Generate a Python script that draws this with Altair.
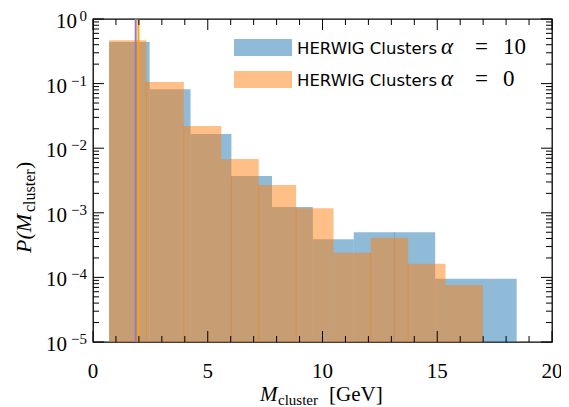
import altair as alt
import pandas as pd

# ---------------- data ----------------
blue_edges = [0.70, 2.47, 4.25, 6.03, 7.80, 9.58, 11.36, 13.13, 14.91, 16.69, 18.46]
blue_density = [0.44, 0.082, 0.0166, 0.0037, 0.00123, 0.00039, 0.00050, 0.00050, 0.000095, 0.000095]
orange_edges = [0.70, 2.33, 3.96, 5.59, 7.22, 8.85, 10.48, 12.10, 13.73, 15.36, 16.99]
orange_density = [0.47, 0.106, 0.0221, 0.0068, 0.0027, 0.00118, 0.00024, 0.00041, 0.000162, 0.000076]

# bin edges where a thin seam between neighbouring bars is visible
blue_seam_idx = [3, 7]
orange_seam_idx = [1, 2, 4, 5, 7, 8]

series_names = ["HERWIG Clusters", "HERWIG Clusters"]
series_alpha = ["10", "0"]
mean_values = [1.86, 1.98]
mean_colors = ["#9477c9", "#ffa500"]

x_major = [0, 5, 10, 15, 20]
x_minor = [1, 2, 3, 4, 6, 7, 8, 9, 11, 12, 13, 14, 16, 17, 18, 19]
y_major = [1e0, 1e-1, 1e-2, 1e-3, 1e-4, 1e-5]
y_exponents = ["0", "\u22121", "\u22122", "\u22123", "\u22124", "\u22125"]
y_minor = [k * 10.0 ** d for d in range(-5, 0) for k in range(2, 10)]

W, H = 459, 323
SERIF = "Liberation Serif"
SANS = "DejaVu Sans"

xs = alt.Scale(domain=[0, 20], nice=False, zero=False)
ys = alt.Scale(type="log", domain=[1e-5, 1], nice=False, clamp=True)


def hist_df(edges, dens):
    return pd.DataFrame({"x": edges[:-1], "x2": edges[1:], "y": dens})


def bars(df, color):
    return alt.Chart(df).mark_rect(color=color, opacity=0.5).encode(
        x=alt.X("x:Q", scale=xs, axis=None),
        x2="x2:Q",
        y=alt.Y("y:Q", scale=ys, axis=None),
        y2=alt.value(H),
    )


def seams(edges, dens, idx, color, op):
    d = pd.DataFrame({"x": [edges[i] for i in idx],
                      "y": [min(dens[i - 1], dens[i]) for i in idx]})
    return alt.Chart(d).mark_rule(color=color, opacity=op, strokeWidth=1).encode(
        x=alt.X("x:Q", scale=xs, axis=None),
        y=alt.Y("y:Q", scale=ys, axis=None),
        y2=alt.value(H),
    )


blue = bars(hist_df(blue_edges, blue_density), "#1f77b4")
blue_s = seams(blue_edges, blue_density, blue_seam_idx, "#8a6f55", 0.45)
orange = bars(hist_df(orange_edges, orange_density), "#ff7f0e")
orange_s = seams(orange_edges, orange_density, orange_seam_idx, "#ff7f0e", 0.55)

means = alt.Chart(pd.DataFrame({"m": mean_values, "c": mean_colors})).mark_rule(strokeWidth=2).encode(
    x=alt.X("m:Q", scale=xs, axis=None),
    color=alt.Color("c:N", scale=None, legend=None),
)

one = pd.DataFrame({"a": [0]})


def xticks(vals, length):
    d = pd.DataFrame({"v": vals})
    b = alt.Chart(d).mark_rule(color="black", strokeWidth=1).encode(
        x=alt.X("v:Q", scale=xs, axis=None), y=alt.value(H), y2=alt.value(H - length))
    t = alt.Chart(d).mark_rule(color="black", strokeWidth=1).encode(
        x=alt.X("v:Q", scale=xs, axis=None), y=alt.value(0), y2=alt.value(length))
    return b + t


def yticks(vals, length):
    d = pd.DataFrame({"v": vals})
    l = alt.Chart(d).mark_rule(color="black", strokeWidth=1).encode(
        y=alt.Y("v:Q", scale=ys, axis=None), x=alt.value(0), x2=alt.value(length))
    r = alt.Chart(d).mark_rule(color="black", strokeWidth=1).encode(
        y=alt.Y("v:Q", scale=ys, axis=None), x=alt.value(W), x2=alt.value(W - length))
    return l + r


ticks = xticks(x_major, 11) + xticks(x_minor, 6) + yticks(y_major, 11) + yticks(y_minor, 6)

xlab = alt.Chart(pd.DataFrame({"v": x_major, "t": [str(v) for v in x_major]})).mark_text(
    font=SERIF, fontSize=21, baseline="alphabetic", align="center", color="black"
).encode(x=alt.X("v:Q", scale=xs, axis=None), y=alt.value(H + 36), text="t:N")

ylab_df = pd.DataFrame({"v": y_major, "e": y_exponents,
                        "bx": [-16 if len(e) == 1 else -26 for e in y_exponents]})
ylab_base = alt.Chart(ylab_df).mark_text(
    font=SERIF, fontSize=21, baseline="alphabetic", align="right", color="black", dy=9
).encode(y=alt.Y("v:Q", scale=ys, axis=None), x=alt.X("bx:Q", scale=None), text=alt.value("10"))
ylab_exp = alt.Chart(ylab_df).mark_text(
    font=SERIF, fontSize=15, baseline="alphabetic", align="right", color="black", dy=2
).encode(y=alt.Y("v:Q", scale=ys, axis=None), x=alt.value(-6), text="e:N")


def txt(s, x, y, size, style="normal", font=SERIF, angle=0, align="left"):
    return alt.Chart(one).mark_text(
        text=s, font=font, fontSize=size, fontStyle=style, baseline="alphabetic",
        align=align, angle=angle, color="black"
    ).encode(x=alt.value(x), y=alt.value(y))


# x-axis title: M_cluster [GeV]
xtitle = (txt("M", 167, 382, 21, "italic") + txt("cluster", 185, 386, 15)
          + txt("[GeV]", 236, 382, 21))
# y-axis title: P(M_cluster), rotated
ytitle = (txt("P(M", -62, 234, 22, "italic", angle=270)
          + txt("cluster", -58, 193, 16, angle=270)
          + txt(")", -62, 150, 22, angle=270))


# legend
def patch(color, y0):
    return alt.Chart(one).mark_rect(color=color, opacity=0.5).encode(
        x=alt.value(141), x2=alt.value(199), y=alt.value(y0), y2=alt.value(y0 + 17))


def legend_row(name, val, y):
    return (txt(name, 204, y, 16.5, font=SANS)
            + txt("\u03b1", 348, y, 23, "italic")
            + txt("=", 382, y, 23)
            + txt(val, 410, y, 23))


legend = (patch("#1f77b4", 20) + patch("#ff7f0e", 52)
          + legend_row(series_names[0], series_alpha[0], 35)
          + legend_row(series_names[1], series_alpha[1], 67))

chart = alt.layer(
    blue, blue_s, orange, orange_s, means, ticks, xlab, ylab_base, ylab_exp, xtitle, ytitle, legend
).properties(
    width=W, height=H,
    autosize=alt.AutoSizeParams(type="none"),
    padding={"left": 85, "top": 11, "right": 9, "bottom": 65},
).configure_view(stroke="black", strokeWidth=1.3)

chart.save("out.html", embed_options={"renderer": "svg", "actions": False})
